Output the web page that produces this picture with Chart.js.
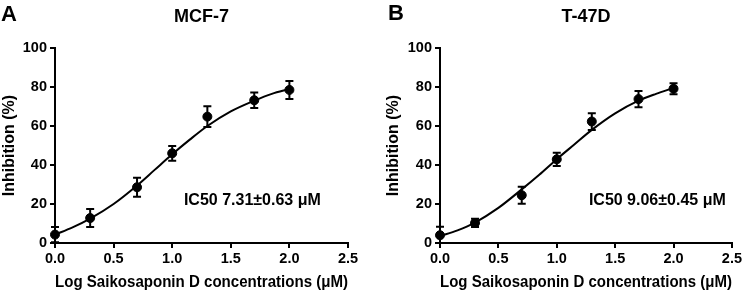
<!DOCTYPE html>
<html>
<head>
<meta charset="utf-8">
<script src="https://cdn.jsdelivr.net/npm/chart.js@4.4.0/dist/chart.umd.min.js"></script>
<style>
  html, body { margin: 0; padding: 0; background: #fff; }
  body { width: 744px; height: 293px; position: relative; overflow: hidden; font-family: "Liberation Sans", Arial, sans-serif; }
  .panel { position: absolute; top: 0; width: 372px; height: 293px; }
  .letter { position: absolute; font-weight: bold; font-size: 22px; line-height: 22px; color: #000; }
</style>
</head>
<body>
<div class="panel" style="left:0"><canvas id="cA" width="372" height="293"></canvas></div>
<div class="panel" style="left:372px"><canvas id="cB" width="372" height="293"></canvas></div>
<div class="letter" style="left:1px; top:3px">A</div>
<div class="letter" style="left:388px; top:2px">B</div>
<script>
// ---- data ----
const doses = [0, 0.3, 0.7, 1.0, 1.3, 1.7, 2.0];           // log concentration
const mcfMean = [4.3, 12.8, 28.6, 46.0, 64.8, 73.2, 78.5];
const mcfErr  = [3.9, 4.6, 4.9, 3.8, 5.3, 4.0, 4.6];
const t47Mean = [4.0, 10.3, 24.5, 42.9, 62.3, 73.8, 79.1];
const t47Err  = [4.3, 2.1, 4.4, 3.4, 4.3, 4.2, 2.8];

// fitted curves
const curveX   = [0, 0.15, 0.3, 0.5, 0.7, 0.85, 1.0, 1.15, 1.3, 1.5, 1.7, 1.85, 2.0];
const mcfCurve = [4.3, 8.0, 12.5, 20.0, 29.5, 37.5, 45.5, 53.0, 60.0, 67.5, 73.0, 76.5, 79.0];
const t47Curve = [3.5, 6.5, 10.5, 18.0, 27.5, 35.0, 43.0, 50.5, 58.0, 66.5, 73.0, 76.5, 79.5];

const xTicks = [0, 0.5, 1.0, 1.5, 2.0, 2.5];
const yTicks = [0, 20, 40, 60, 80, 100];

const titles = ["MCF-7", "T-47D"];
const ic50Text = ["IC50 7.31±0.63 μM", "IC50 9.06±0.45 μM"];

const FONT = '"Liberation Sans", Arial, sans-serif';

function pts(xs, ys) { return xs.map((x, i) => ({ x: x, y: ys[i] })); }

const errorBarPlugin = {
  id: 'errbars',
  afterDatasetsDraw(chart, args, opts) {
    const { ctx, scales: { x, y } } = chart;
    ctx.save();
    ctx.strokeStyle = '#000';
    ctx.lineWidth = 2;
    opts.means.forEach((m, i) => {
      const px = x.getPixelForValue(opts.xs[i]);
      const top = y.getPixelForValue(m + opts.errs[i]);
      const bot = y.getPixelForValue(Math.max(0, m - opts.errs[i]));
      ctx.beginPath();
      ctx.moveTo(px, top); ctx.lineTo(px, bot);
      ctx.moveTo(px - 4, top); ctx.lineTo(px + 4, top);
      if (m - opts.errs[i] >= 0) { ctx.moveTo(px - 4, bot); ctx.lineTo(px + 4, bot); }
      ctx.stroke();
    });
    ctx.restore();
  },
  afterDraw(chart, args, opts) {
    const { ctx, chartArea, scales: { x, y } } = chart;
    ctx.save();
    ctx.fillStyle = '#000';
    ctx.font = 'bold 18px ' + FONT;
    ctx.textAlign = 'center';
    ctx.textBaseline = 'middle';
    ctx.fillText(opts.title, (chartArea.left + chartArea.right) / 2, 17);
    ctx.font = 'bold 16px ' + FONT;
    ctx.textAlign = 'left';
    ctx.fillText(opts.note, x.getPixelForValue(opts.noteX), y.getPixelForValue(opts.noteY));
    ctx.restore();
  }
};

function makeChart(id, means, errs, curve, idx, padLeft, yWidth, padRight, noteX) {
  return new Chart(document.getElementById(id), {
    data: {
      datasets: [
        {
          type: 'line',
          data: pts(curveX, curve),
          borderColor: '#000',
          borderWidth: 2,
          pointRadius: 0,
          cubicInterpolationMode: 'monotone',
          fill: false,
          clip: false
        },
        {
          type: 'scatter',
          data: pts(doses, means),
          backgroundColor: '#000',
          borderColor: '#000',
          pointRadius: 4.5,
          clip: false
        }
      ]
    },
    options: {
      responsive: false,
      animation: false,
      devicePixelRatio: 1,
      layout: { padding: { left: padLeft, right: padRight, top: 48, bottom: 0 } },
      plugins: {
        legend: { display: false },
        tooltip: { enabled: false },
        errbars: { xs: doses, means: means, errs: errs, title: titles[idx], note: ic50Text[idx], noteX: noteX, noteY: 21.5 }
      },
      scales: {
        x: {
          type: 'linear',
          min: 0, max: 2.5,
          afterBuildTicks: s => { s.ticks = xTicks.map(v => ({ value: v })); },
          afterFit: s => { s.height = 50; },
          ticks: {
            color: '#000', maxRotation: 0, padding: 2,
            font: { family: FONT, weight: 'bold', size: 14.5 },
            callback: v => Number(v).toFixed(1)
          },
          grid: { drawOnChartArea: false, drawTicks: true, tickLength: 5, lineWidth: 2, color: '#000' },
          border: { display: true, width: 2, color: '#000' },
          title: {
            display: true, text: 'Log Saikosaponin D concentrations (μM)', color: '#000',
            font: { family: FONT, weight: 'bold', size: 17 }, padding: { top: 0, bottom: 0 }
          }
        },
        y: {
          type: 'linear',
          min: 0, max: 100,
          afterBuildTicks: s => { s.ticks = yTicks.map(v => ({ value: v })); },
          afterFit: s => { s.width = yWidth; },
          ticks: {
            color: '#000', padding: 3,
            font: { family: FONT, weight: 'bold', size: 14.5 }
          },
          grid: { drawOnChartArea: false, drawTicks: true, tickLength: 5, lineWidth: 2, color: '#000' },
          border: { display: true, width: 2, color: '#000' },
          title: {
            display: true, text: 'Inhibition (%)', color: '#000',
            font: { family: FONT, weight: 'bold', size: 16 }, padding: { top: 0, bottom: 0 }
          }
        }
      }
    },
    plugins: [errorBarPlugin]
  });
}

makeChart('cA', mcfMean, mcfErr, mcfCurve, 0, 0, 55, 24, 1.1);
makeChart('cB', t47Mean, t47Err, t47Curve, 1, 12, 56, 10, 1.275);
</script>
</body>
</html>
